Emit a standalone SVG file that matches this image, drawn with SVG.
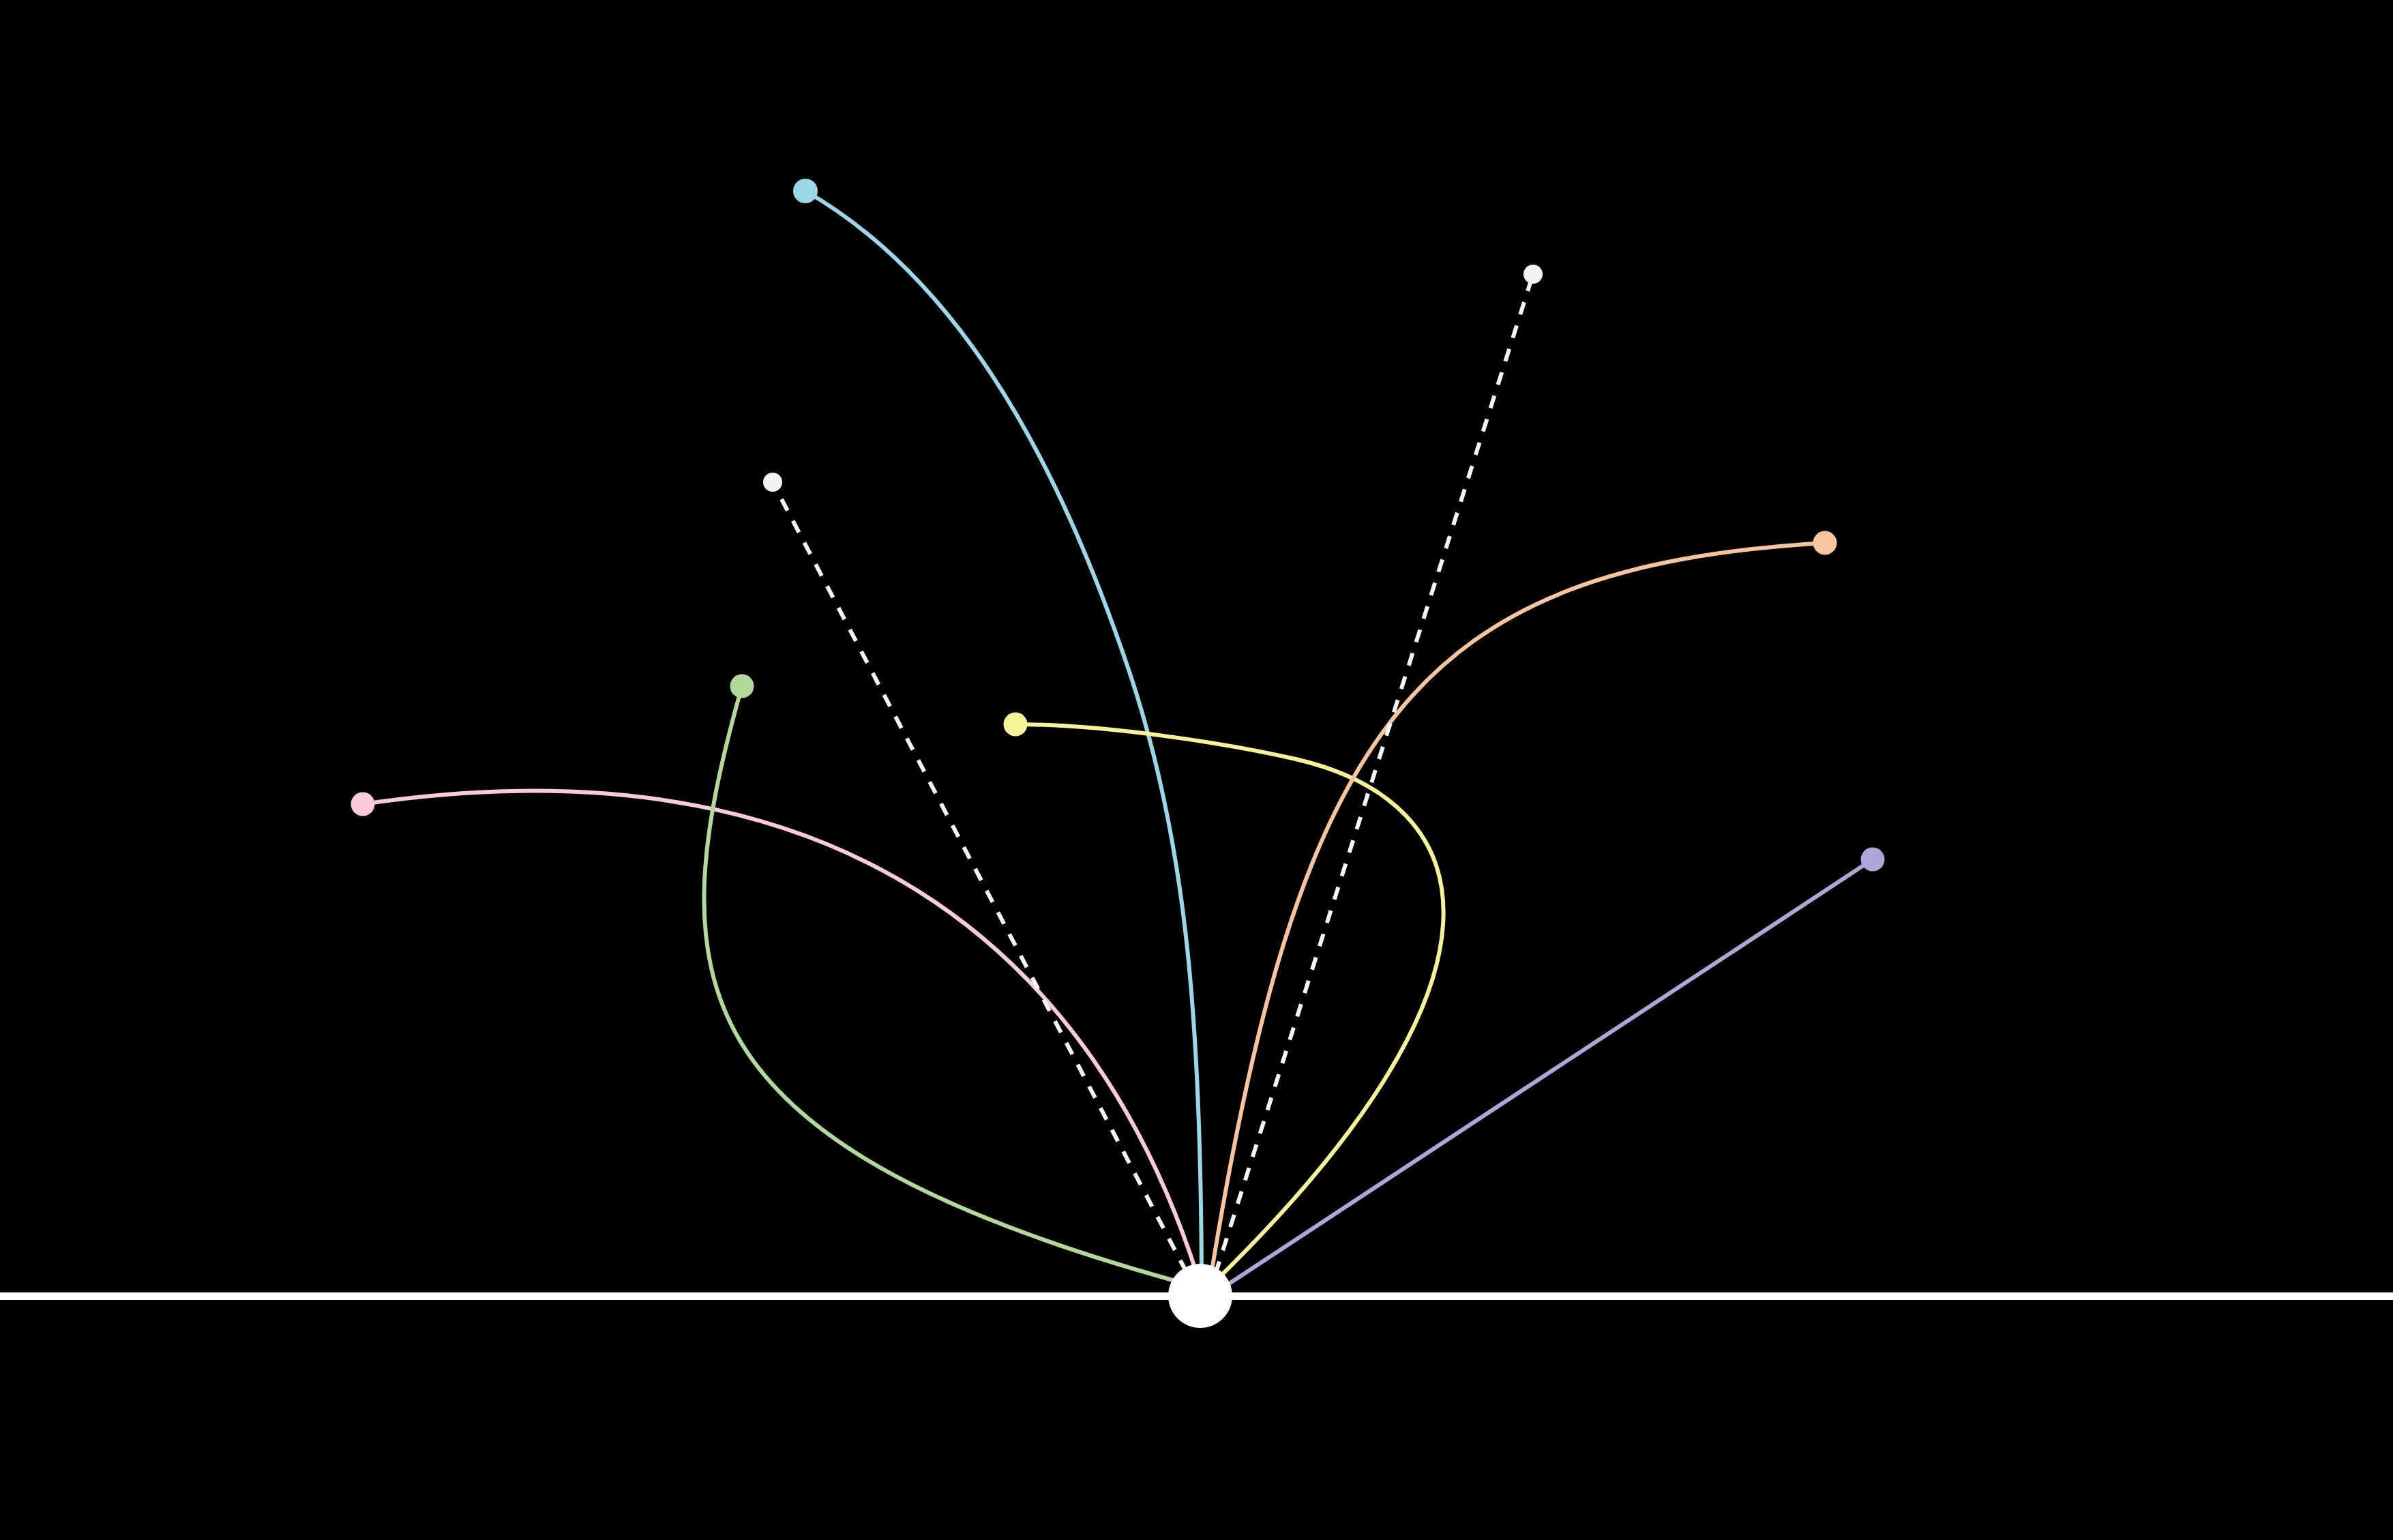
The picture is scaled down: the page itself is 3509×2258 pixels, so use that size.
<svg xmlns="http://www.w3.org/2000/svg" width="3509" height="2258" viewBox="0 0 3509 2258">
<style>
.c{fill:none;stroke-width:6;stroke-linecap:butt}
.d{fill:none;stroke:#f4f4f4;stroke-width:6;stroke-dasharray:19 17}
</style>
<rect x="0" y="0" width="3509" height="2258" fill="#000"/>
<rect id="ground" x="0" y="1895" width="3509" height="11" fill="#fff"/>
<g id="connectors">
<path class="c" stroke="#9bd7e8" d="M1181,280 C1390,400 1540,640 1656,985 C1740,1235 1762,1500 1762,1900"/>
<path class="c" stroke="#f9cad9" d="M532,1179 C1215,1078 1610,1380 1765,1900"/>
<path class="c" stroke="#b0d99a" d="M1088,1006 C966,1438 987,1681 1760,1888"/>
<path class="c" stroke="#f6f29a" d="M1489,1062 C1620,1062 1800,1090 1900,1113 C2173,1176 2250,1431 1760,1900"/>
<path class="c" stroke="#f8c49e" d="M2676,796 C2076,832 1904,1060 1771,1900"/>
<path class="c" stroke="#ada6d8" d="M2746,1260 L1760,1910"/>
<path class="d" stroke-dashoffset="8" d="M1133,707 L1758,1900"/>
<path class="d" stroke-dashoffset="29" d="M2248,402 L1772,1900"/>
</g>
<g id="node-blue"><circle cx="1181" cy="280" r="18" fill="#9bd7e8"/></g>
<g id="node-white-right"><circle cx="2248" cy="402" r="14" fill="#f4f4f4"/></g>
<g id="node-white-left"><circle cx="1133" cy="707" r="14" fill="#f4f4f4"/></g>
<g id="node-orange"><circle cx="2676" cy="796" r="17.5" fill="#f8c49e"/></g>
<g id="node-green"><circle cx="1088" cy="1006" r="17.5" fill="#b0d99a"/></g>
<g id="node-yellow"><circle cx="1489" cy="1062" r="17.5" fill="#f6f29a"/></g>
<g id="node-pink"><circle cx="532" cy="1179" r="17.5" fill="#f9cad9"/></g>
<g id="node-purple"><circle cx="2746" cy="1260" r="17.5" fill="#ada6d8"/></g>
<g id="node-center"><circle cx="1760" cy="1900" r="47" fill="#fff"/></g>
</svg>
